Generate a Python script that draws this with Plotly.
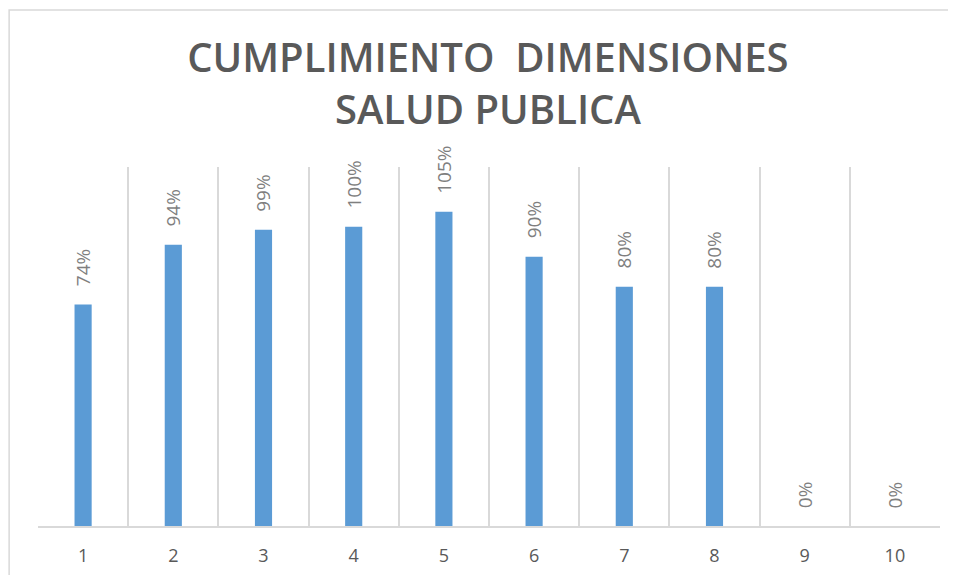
import plotly.graph_objects as go

categories = [1, 2, 3, 4, 5, 6, 7, 8, 9, 10]
tick_labels = ["1", "2", "3", "4", "5", "6", "7", "8", "9", "10"]
cumplimiento = [0.74, 0.94, 0.99, 1.00, 1.05, 0.90, 0.80, 0.80, 0.0, 0.0]

label_color = "#7f7f7f"
grid_color = "#d9d9d9"


def main():
    fig = go.Figure()
    fig.add_trace(
        go.Bar(
            x=categories,
            y=cumplimiento,
            width=0.19,
            marker=dict(color="#5b9bd5", line=dict(width=0)),
            hoverinfo="skip",
        )
    )

    # rotated data labels above each bar
    for cat, val in zip(categories, cumplimiento):
        fig.add_annotation(
            x=cat, y=val, text=f"{val:.0%}", textangle=-90,
            showarrow=False, yanchor="bottom", yshift=16,
            font=dict(family="Open Sans", size=19, color=label_color),
        )

    # chart frame
    fig.add_shape(
        type="rect", xref="paper", yref="paper",
        x0=-0.032, x1=1.03, y0=-0.3, y1=1.437,
        line=dict(color="#d9d9d9", width=1.5), layer="below",
    )

    fig.update_layout(
        width=956, height=575,
        margin=dict(l=30, r=24, t=159, b=57),
        plot_bgcolor="white", paper_bgcolor="white",
        showlegend=False,
        title=dict(
            text="CUMPLIMIENTO  DIMENSIONES<br>SALUD PUBLICA",
            x=0.502, xanchor="center", y=0.888, yanchor="middle", yref="container",
            font=dict(family="Open Sans", size=40, color="#595959", weight=600),
        ),
    )
    fig.update_xaxes(
        range=[0.5, 10.5], tickmode="array", tickvals=categories, ticktext=tick_labels,
        showgrid=False, showline=True, linecolor=grid_color, linewidth=1.5,
        ticks="", ticklabelstandoff=13,
        tickfont=dict(family="Open Sans", size=18, color="#595959"),
        minor=dict(tick0=0.5, dtick=1, showgrid=True, gridcolor=grid_color, gridwidth=1.5),
        zeroline=False,
    )
    fig.update_yaxes(range=[0, 1.2], visible=False, showgrid=False)

    fig.write_html("out.html")


if __name__ == "__main__":
    main()
